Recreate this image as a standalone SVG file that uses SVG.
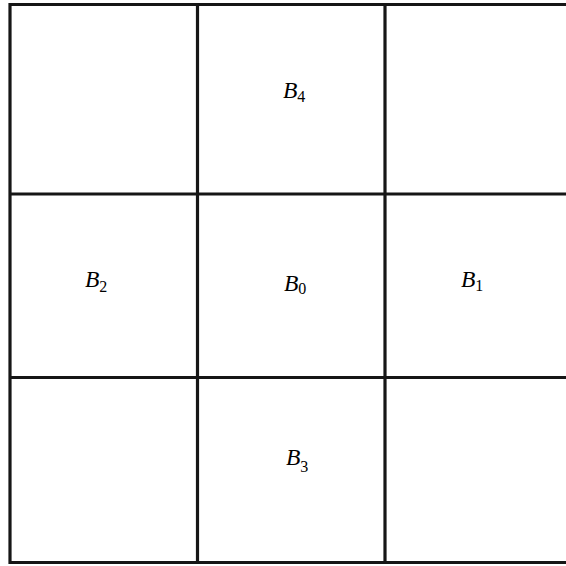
<svg xmlns="http://www.w3.org/2000/svg" width="566" height="566" viewBox="0 0 566 566">
<style>
.ln{stroke:#161616;stroke-width:3.2;fill:none}
.lb{font-family:"Liberation Serif","Times New Roman",serif;font-size:23.5px;font-style:italic;fill:#000}
.sb{font-style:normal;font-size:16px}
</style>
<rect width="566" height="566" fill="#fff"/>
<g id="connectors">
<line class="ln" x1="10" y1="4.5" x2="566" y2="4.5"/>
<line class="ln" x1="10" y1="562.5" x2="566" y2="562.5"/>
<line class="ln" x1="10" y1="3" x2="10" y2="564"/>
<line class="ln" x1="197.5" y1="4.5" x2="197.5" y2="562.5"/>
<line class="ln" x1="385" y1="4.5" x2="385" y2="562.5"/>
<line class="ln" x1="10" y1="194" x2="566" y2="194"/>
<line class="ln" x1="10" y1="377.5" x2="566" y2="377.5"/>
</g>
<g id="B4"><text class="lb" x="283" y="98">B<tspan class="sb" dy="4">4</tspan></text></g>
<g id="B2"><text class="lb" x="85" y="287">B<tspan class="sb" dy="5">2</tspan></text></g>
<g id="B0"><text class="lb" x="284" y="291">B<tspan class="sb" dy="3">0</tspan></text></g>
<g id="B1"><text class="lb" x="461" y="287">B<tspan class="sb" dy="4">1</tspan></text></g>
<g id="B3"><text class="lb" x="286" y="465">B<tspan class="sb" dy="7">3</tspan></text></g>
</svg>
